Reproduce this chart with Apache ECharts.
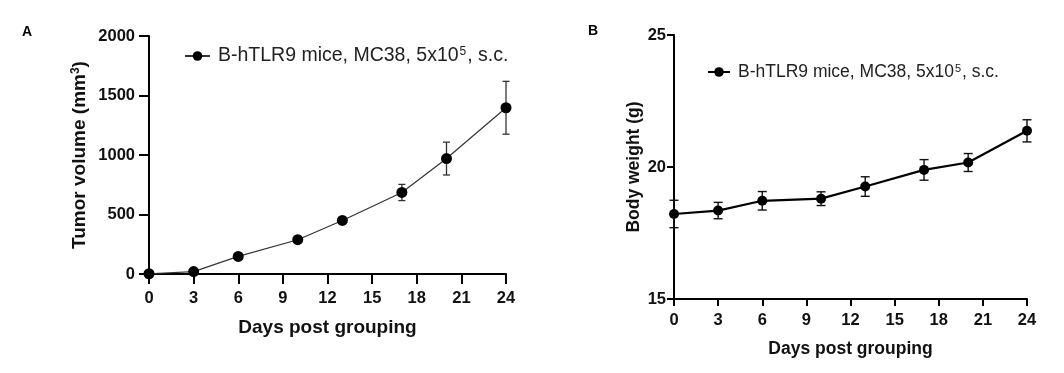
<!DOCTYPE html>
<html>
<head>
<meta charset="utf-8">
<script src="https://cdn.jsdelivr.net/npm/echarts@6/dist/echarts.min.js"></script>
<style>
html,body{margin:0;padding:0;background:#fff;}
#chart{width:1064px;height:373px;}
</style>
</head>
<body>
<div id="chart"></div>
<script>
const days = [0, 3, 6, 10, 13, 17, 20, 24];
const xTicks = [0, 3, 6, 9, 12, 15, 18, 21, 24];
const tumorMean = [2, 20, 148, 288, 450, 685, 970, 1397];
const tumorSem = [2, 5, 15, 20, 25, 68, 138, 222];
const weightMean = [18.22, 18.35, 18.72, 18.80, 19.26, 19.89, 20.17, 21.37];
const weightSem = [0.52, 0.31, 0.35, 0.26, 0.37, 0.39, 0.34, 0.42];
const legendLabel = 'B-hTLR9 mice, MC38, 5x10^5, s.c.';

const FONT = '"Liberation Sans", Arial, sans-serif';

function pairs(xs, ys) { return xs.map((x, i) => [x, ys[i]]); }
function errData(xs, m, e) { return xs.map((x, i) => [x, m[i] - e[i], m[i] + e[i]]); }

function errRender(capW, lw, color) {
  return function (params, api) {
    const x = api.value(0), lo = api.value(1), hi = api.value(2);
    const pLo = api.coord([x, lo]), pHi = api.coord([x, hi]);
    const h = capW / 2;
    const st = { stroke: color, lineWidth: lw };
    return {
      type: 'group',
      children: [
        { type: 'line', shape: { x1: pLo[0], y1: pLo[1], x2: pHi[0], y2: pHi[1] }, style: st },
        { type: 'line', shape: { x1: pLo[0] - h, y1: pLo[1], x2: pLo[0] + h, y2: pLo[1] }, style: st },
        { type: 'line', shape: { x1: pHi[0] - h, y1: pHi[1], x2: pHi[0] + h, y2: pHi[1] }, style: st }
      ]
    };
  };
}

function legendFormatter() {
  const parts = legendLabel.split('^');
  const sup = parts[1].charAt(0);
  const rest = parts[1].slice(1);
  return '{f|' + parts[0] + '}{s|' + sup + '}{t|' + rest + '}';
}

function legendRich(fs, pad) {
  return {
    f: { fontSize: fs, fontFamily: FONT, color: '#222', padding: [0, 0, 0, pad] },
    t: { fontSize: fs, fontFamily: FONT, color: '#222' },
    s: { fontSize: Math.round(fs * 0.62), fontFamily: FONT, color: '#222', verticalAlign: 'top', padding: [0, 1, 0, 1] }
  };
}

function xAxisCfg(gridIndex, fs, nameFs, nameGap, tickLen, margin) {
  return {
    gridIndex: gridIndex, type: 'value', min: 0, max: 24, interval: 3,
    name: 'Days post grouping', nameLocation: 'middle', nameGap: nameGap,
    nameTextStyle: { fontSize: nameFs, fontWeight: 'bold', fontFamily: FONT, color: '#111', verticalAlign: 'top' },
    axisLine: { show: true, onZero: false, lineStyle: { color: '#000', width: 2 } },
    axisTick: { show: true, length: tickLen, lineStyle: { color: '#000', width: 2 } },
    axisLabel: { fontSize: fs, fontWeight: 'bold', fontFamily: FONT, color: '#111', margin: margin,
      formatter: v => (xTicks.indexOf(v) >= 0 ? String(v) : '') },
    splitLine: { show: false }
  };
}

const option = {
  animation: false,
  backgroundColor: '#fff',
  title: [
    { text: 'A', left: 17, top: 20, textStyle: { fontSize: 14, fontWeight: 'bold', fontFamily: FONT, color: '#000' } },
    { text: 'B', left: 583, top: 19, textStyle: { fontSize: 14, fontWeight: 'bold', fontFamily: FONT, color: '#000' } }
  ],
  grid: [
    { left: 149, top: 36, width: 357, height: 238, containLabel: false },
    { left: 674, top: 35, width: 353, height: 264, containLabel: false }
  ],
  legend: [
    {
      data: ['tumor'], left: 179, top: 41, itemWidth: 25, itemHeight: 12,
      formatter: legendFormatter,
      textStyle: { rich: legendRich(19.5, 3) }
    },
    {
      data: ['weight'], left: 702, top: 58, itemWidth: 22, itemHeight: 12,
      formatter: legendFormatter,
      textStyle: { rich: legendRich(17.5, 3) }
    }
  ],
  xAxis: [
    xAxisCfg(0, 16.5, 19, 44, 10, 16),
    xAxisCfg(1, 16.5, 17.5, 41, 7, 13)
  ],
  yAxis: [
    {
      gridIndex: 0, type: 'value', min: 0, max: 2000, interval: 500,
      name: '{t|Tumor volume (mm}{s|3}{t|)}', nameLocation: 'middle', nameGap: 60,
      nameTextStyle: {
        rich: {
          t: { fontSize: 19, fontWeight: 'bold', fontFamily: FONT, color: '#111' },
          s: { fontSize: 12, fontWeight: 'bold', fontFamily: FONT, color: '#111', verticalAlign: 'top' }
        }
      },
      axisLine: { show: true, lineStyle: { color: '#000', width: 2 } },
      axisTick: { show: true, length: 10, lineStyle: { color: '#000', width: 2 } },
      axisLabel: { fontSize: 16.5, fontWeight: 'bold', fontFamily: FONT, color: '#111', margin: 14,
        formatter: v => String(v) },
      splitLine: { show: false }
    },
    {
      gridIndex: 1, type: 'value', min: 15, max: 25, interval: 5,
      name: 'Body weight (g)', nameLocation: 'middle', nameGap: 31,
      nameTextStyle: { fontSize: 17.5, fontWeight: 'bold', fontFamily: FONT, color: '#111' },
      axisLine: { show: true, lineStyle: { color: '#000', width: 2 } },
      axisTick: { show: true, length: 7, lineStyle: { color: '#000', width: 2 } },
      axisLabel: { fontSize: 16.5, fontWeight: 'bold', fontFamily: FONT, color: '#111', margin: 8,
        formatter: v => String(v) },
      splitLine: { show: false }
    }
  ],
  series: [
    {
      type: 'custom', name: 'tumorErr', xAxisIndex: 0, yAxisIndex: 0, clip: false, z: 2,
      encode: { x: 0, y: [1, 2] },
      renderItem: errRender(7, 1.3, '#333'),
      data: errData(days, tumorMean, tumorSem)
    },
    {
      type: 'line', name: 'tumor', xAxisIndex: 0, yAxisIndex: 0, clip: false, z: 3,
      data: pairs(days, tumorMean),
      symbol: 'circle', symbolSize: 11,
      lineStyle: { color: '#333', width: 1.2 },
      itemStyle: { color: '#000' }
    },
    {
      type: 'custom', name: 'weightErr', xAxisIndex: 1, yAxisIndex: 1, clip: false, z: 2,
      encode: { x: 0, y: [1, 2] },
      renderItem: errRender(9, 1.4, '#111'),
      data: errData(days, weightMean, weightSem)
    },
    {
      type: 'line', name: 'weight', xAxisIndex: 1, yAxisIndex: 1, clip: false, z: 3,
      data: pairs(days, weightMean),
      symbol: 'circle', symbolSize: 10,
      lineStyle: { color: '#000', width: 2.2 },
      itemStyle: { color: '#000' }
    }
  ]
};

const chart = echarts.init(document.getElementById('chart'), null, { renderer: 'canvas' });
chart.setOption(option);
</script>
</body>
</html>
